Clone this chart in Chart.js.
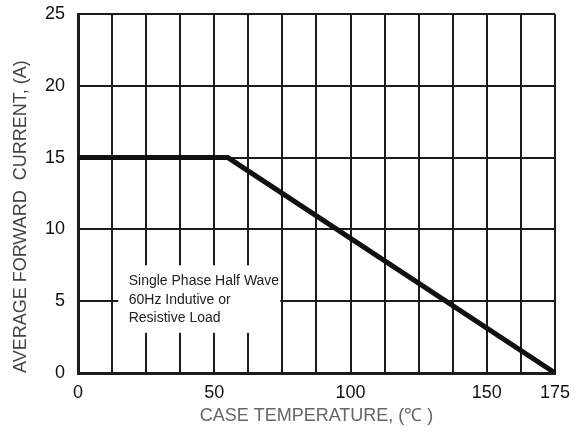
<!DOCTYPE html>
<html>
<head>
<meta charset="utf-8">
<script src="https://cdn.jsdelivr.net/npm/chart.js@4"></script>
<style>
  html, body { margin: 0; padding: 0; background: #fff; }
  #wrap { width: 579px; height: 434px; position: relative; }
</style>
</head>
<body>
<div id="wrap"><canvas id="derating"></canvas></div>
<script>
// Forward current derating curve
const caseTemp = [0, 55, 175];
const avgCurrent = [15, 15, 0];
const xTickLabels = [0, 50, 100, 150, 175];
const yTicks = [0, 5, 10, 15, 20, 25];
const noteLines = ['Single Phase Half Wave', '60Hz Indutive or', 'Resistive Load'];

const sans = "'Liberation Sans Narrow', 'Liberation Sans', Arial, sans-serif";
const ink = '#1c1c1c';

// white note box sitting on top of the grid
const notePlugin = {
    id: 'noteBox',
    beforeDatasetsDraw(chart) {
        const { ctx, scales: { x, y } } = chart;
        const x0 = x.getPixelForValue(14.8), x1 = x.getPixelForValue(74.2);
        const y0 = y.getPixelForValue(7.5), y1 = y.getPixelForValue(2.8);
        ctx.save();
        ctx.fillStyle = '#fff';
        ctx.fillRect(x0, y0, x1 - x0, y1 - y0);
        ctx.fillStyle = '#222';
        ctx.font = "14px 'Liberation Sans', Arial, sans-serif";
        ctx.textBaseline = 'middle';
        const tx = x.getPixelForValue(18.6);
        noteLines.forEach((line, i) => {
            ctx.fillText(line, tx, y0 + 16 + i * 18.5);
        });
        ctx.restore();
    }
};

new Chart(document.getElementById('derating'), {
    type: 'line',
    data: {
        datasets: [{
            data: caseTemp.map((t, i) => ({ x: t, y: avgCurrent[i] })),
            borderColor: '#111',
            borderWidth: 5,
            pointRadius: 0,
            tension: 0,
            fill: false
        }]
    },
    options: {
        responsive: true, maintainAspectRatio: false, animation: false,
        layout: { padding: { top: 14, right: 24, left: 0, bottom: 0 } },
        plugins: { legend: { display: false }, tooltip: { enabled: false } },
        scales: {
            x: {
                type: 'linear', min: 0, max: 175,
                afterFit(scale) { scale.height = 61; },
                grid: { color: ink, lineWidth: 2, drawTicks: false },
                border: { display: true, color: ink, width: 3 },
                ticks: {
                    stepSize: 12.5, autoSkip: false, maxRotation: 0, padding: 9,
                    color: '#111', font: { family: sans, size: 18 },
                    callback: v => xTickLabels.includes(v) ? String(v) : ''
                },
                title: {
                    display: true, text: 'CASE TEMPERATURE, (\u2103 )',
                    color: '#666', font: { family: sans, size: 18 },
                    padding: { top: 0, bottom: 7 }
                }
            },
            y: {
                min: 0, max: 25,
                afterFit(scale) { scale.width = 78; scale.paddingTop = 0; scale.paddingBottom = 0; },
                grid: { color: ink, lineWidth: 2, drawTicks: false },
                border: { display: true, color: ink, width: 3 },
                ticks: {
                    stepSize: 5, padding: 13,
                    color: '#111', font: { family: sans, size: 18 },
                    callback: v => yTicks.includes(v) ? String(v) : ''
                },
                title: {
                    display: true, text: 'AVERAGE FORWARD  CURRENT, (A)', align: 'start',
                    color: '#444', font: { family: sans, size: 18 },
                    padding: { top: 10, bottom: 0 }
                }
            }
        }
    },
    plugins: [notePlugin]
});
</script>
</body>
</html>
